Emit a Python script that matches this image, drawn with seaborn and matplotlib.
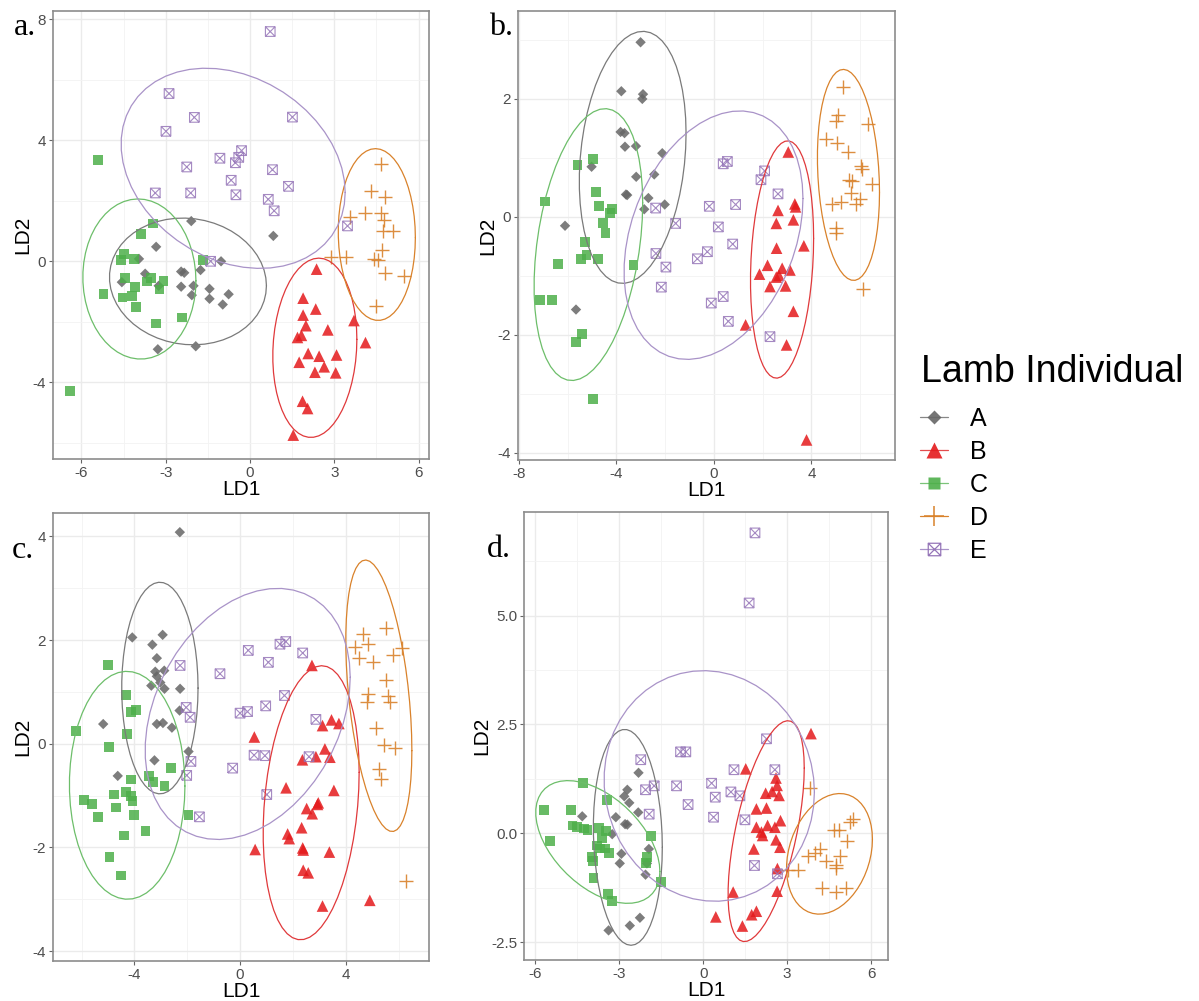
import numpy as np
import pandas as pd
import matplotlib
matplotlib.use("Agg")
import matplotlib.pyplot as plt
import seaborn as sns
from matplotlib.path import Path
from matplotlib.lines import Line2D
from matplotlib.ticker import FormatStrFormatter

sns.set_theme(style="white")
plt.rcParams["font.family"] = ["Liberation Sans", "DejaVu Sans"]
plt.rcParams["axes.unicode_minus"] = False
plt.rcParams["text.color"] = "black"

groups = ["A", "B", "C", "D", "E"]

# ---------------- panel a ----------------
a_A_x = [-2.09, 0.83, -3.34, -3.95, -1.03, -3.73, -2.45, -2.34, -1.76, -4.56, -3.25, -2.45, -2.01, -1.44, -2.07, -1.44, -0.76, -0.97, -3.28, -1.93]
a_A_y = [1.33, 0.84, 0.48, 0.08, 0.0, -0.41, -0.34, -0.38, -0.29, -0.69, -0.81, -0.84, -0.81, -0.91, -1.12, -1.24, -1.09, -1.43, -2.91, -2.81]
a_B_x = [2.37, 1.89, 2.34, 1.89, 1.99, 3.70, 2.77, 1.69, 1.83, 4.11, 2.07, 2.46, 3.08, 1.75, 2.64, 2.31, 3.05, 1.87, 2.05, 1.54]
a_B_y = [-0.26, -1.22, -1.58, -1.78, -2.13, -1.96, -2.27, -2.52, -2.45, -2.69, -3.05, -3.14, -3.10, -3.34, -3.49, -3.67, -3.69, -4.63, -4.87, -5.75]
a_C_x = [-5.41, -3.46, -3.89, -4.49, -4.59, -4.14, -1.68, -4.44, -3.51, -3.67, -3.08, -4.08, -3.22, -5.21, -4.54, -4.20, -4.06, -2.43, -3.35, -6.41]
a_C_y = [3.34, 1.25, 0.89, 0.25, 0.05, 0.08, 0.05, -0.56, -0.55, -0.67, -0.64, -0.84, -0.93, -1.07, -1.20, -1.16, -1.51, -1.86, -2.06, -4.29]
a_D_x = [4.65, 4.32, 4.79, 4.08, 3.55, 4.65, 4.76, 5.09, 4.73, 3.41, 2.88, 4.71, 4.41, 4.56, 4.79, 5.47, 4.47]
a_D_y = [3.22, 2.33, 2.13, 1.61, 1.48, 1.59, 1.38, 1.00, 1.00, 0.14, 0.14, 0.37, 0.08, 0.05, -0.38, -0.49, -1.49]
a_E_x = [0.72, -2.88, -1.98, 1.51, -2.99, -0.30, -0.40, -1.07, -0.52, -2.25, 0.80, -0.67, 1.37, -3.37, -2.11, -0.50, 0.65, 0.86, 3.47, -1.40]
a_E_y = [7.60, 5.55, 4.76, 4.77, 4.30, 3.66, 3.44, 3.41, 3.26, 3.12, 3.03, 2.68, 2.48, 2.26, 2.26, 2.20, 2.05, 1.67, 1.17, 0.0]

# ---------------- panel b ----------------
b_A_x = [-3.01, -3.80, -2.91, -2.94, -3.83, -3.67, -3.65, -3.20, -2.12, -5.02, -3.19, -2.45, -3.61, -3.56, -2.69, -2.86, -2.02, -6.11, -5.66]
b_A_y = [2.96, 2.13, 2.08, 2.00, 1.44, 1.42, 1.19, 1.20, 1.08, 0.85, 0.68, 0.72, 0.38, 0.37, 0.32, 0.13, 0.21, -0.15, -1.57]
b_B_x = [3.05, 3.32, 3.35, 2.63, 2.56, 3.26, 3.69, 2.57, 2.20, 1.87, 2.80, 3.12, 2.56, 2.67, 2.30, 2.94, 3.26, 1.30, 2.98, 3.80]
b_B_y = [1.10, 0.22, 0.17, 0.11, -0.11, -0.05, -0.49, -0.53, -0.82, -0.97, -0.87, -0.90, -1.02, -0.99, -1.18, -1.17, -1.60, -1.83, -2.17, -3.78]
b_C_x = [-4.95, -5.60, -4.83, -6.94, -4.71, -4.17, -4.27, -4.56, -4.45, -5.29, -5.23, -5.47, -4.76, -6.40, -3.30, -7.13, -6.63, -5.40, -5.66, -4.97]
b_C_y = [0.98, 0.88, 0.42, 0.26, 0.18, 0.14, 0.07, -0.11, -0.27, -0.42, -0.65, -0.72, -0.71, -0.80, -0.81, -1.41, -1.41, -1.99, -2.12, -3.09]
b_D_x = [5.29, 5.09, 5.02, 6.31, 4.58, 5.06, 5.51, 6.02, 6.06, 6.50, 5.56, 5.66, 5.64, 5.98, 4.86, 5.23, 5.81, 4.99, 4.99, 6.11]
b_D_y = [2.21, 1.73, 1.63, 1.57, 1.32, 1.26, 1.10, 0.87, 0.82, 0.56, 0.62, 0.61, 0.41, 0.31, 0.22, 0.26, 0.22, -0.19, -0.28, -1.22]
b_E_x = [0.55, 0.38, 2.08, 1.93, 2.63, -0.19, 0.89, -2.39, -1.57, 0.18, 0.77, -2.38, -0.27, -0.68, -1.97, -2.16, 0.38, -0.11, 0.59, 2.30]
b_E_y = [0.94, 0.90, 0.78, 0.63, 0.39, 0.18, 0.21, 0.15, -0.11, -0.17, -0.46, -0.62, -0.59, -0.71, -0.85, -1.19, -1.35, -1.46, -1.77, -2.03]

# ---------------- panel c ----------------
c_A_x = [-2.28, -4.08, -2.93, -3.32, -3.15, -3.21, -2.87, -3.15, -3.02, -3.36, -2.86, -2.27, -2.29, -5.18, -3.15, -2.92, -2.58, -1.95, -3.24, -4.63]
c_A_y = [4.08, 2.05, 2.10, 1.91, 1.65, 1.39, 1.41, 1.30, 1.18, 1.12, 1.06, 1.06, 0.64, 0.38, 0.38, 0.40, 0.31, -0.15, -0.32, -0.62]
c_B_x = [2.72, 3.12, 3.46, 3.74, 0.54, 3.21, 2.87, 3.40, 2.36, 3.55, 1.74, 2.96, 2.93, 2.52, 2.73, 2.33, 1.80, 1.86, 2.37, 2.39, 0.57, 3.38, 2.39, 2.58, 4.91, 3.12]
c_B_y = [1.51, 0.35, 0.46, 0.39, 0.13, -0.10, -0.25, -0.26, -0.31, -0.90, -0.85, -1.14, -1.17, -1.25, -1.35, -1.62, -1.74, -1.83, -2.01, -2.05, -2.04, -2.09, -2.44, -2.49, -3.02, -3.13]
c_C_x = [-5.01, -4.33, -4.12, -3.95, -6.21, -4.28, -4.96, -2.62, -3.45, -3.30, -4.12, -2.86, -4.76, -4.31, -4.12, -4.07, -5.92, -5.59, -4.70, -4.00, -5.39, -1.95, -3.58, -4.40, -4.94, -4.50]
c_C_y = [1.52, 0.94, 0.62, 0.65, 0.24, 0.19, -0.06, -0.47, -0.62, -0.74, -0.69, -0.81, -0.98, -0.93, -1.01, -1.11, -1.08, -1.16, -1.23, -1.37, -1.42, -1.37, -1.68, -1.77, -2.18, -2.54]
c_D_x = [5.52, 4.66, 4.85, 4.35, 6.11, 5.79, 4.51, 5.04, 5.52, 4.85, 5.60, 4.82, 5.69, 5.16, 5.44, 5.86, 5.26, 5.35, 6.27]
c_D_y = [2.24, 2.11, 1.92, 1.87, 1.85, 1.71, 1.65, 1.57, 1.23, 0.96, 0.93, 0.80, 0.80, 0.30, -0.02, -0.08, -0.48, -0.68, -2.64]
c_E_x = [1.73, 1.51, 0.31, 2.37, 1.07, -2.27, -0.76, 1.68, -2.04, -1.89, 0.97, 0.28, 0.0, 2.87, 0.53, 0.94, -1.86, 2.61, -0.28, -2.02, 1.01, -1.54]
c_E_y = [1.97, 1.92, 1.80, 1.75, 1.57, 1.51, 1.35, 0.93, 0.70, 0.51, 0.73, 0.62, 0.59, 0.47, -0.22, -0.23, -0.34, -0.25, -0.47, -0.61, -0.98, -1.41]

# ---------------- panel d ----------------
d_A_x = [-2.31, -2.71, -2.82, -2.64, -2.32, -4.32, -3.12, -2.79, -2.71, -3.25, -1.94, -2.92, -2.98, -2.01, -2.06, -2.26, -2.62, -3.38]
d_A_y = [1.39, 1.00, 0.85, 0.70, 0.48, 0.39, 0.37, 0.21, 0.20, -0.02, -0.36, -0.47, -0.69, -0.69, -0.95, -1.94, -2.12, -2.23]
d_B_x = [3.85, 1.52, 2.60, 2.64, 2.46, 2.23, 2.71, 1.90, 2.26, 2.76, 1.90, 2.30, 2.56, 2.12, 2.08, 2.60, 1.81, 2.74, 2.65, 2.64, 1.07, 1.90, 1.73, 0.45, 1.40]
d_B_y = [2.29, 1.48, 1.27, 1.10, 0.96, 0.92, 0.87, 0.56, 0.58, 0.29, 0.14, 0.18, 0.14, -0.05, 0.03, -0.15, -0.36, -0.32, -0.81, -1.33, -1.35, -1.79, -1.87, -1.92, -2.13]
d_C_x = [-4.29, -3.44, -5.68, -4.71, -4.67, -4.52, -4.25, -4.13, -3.71, -3.48, -3.60, -5.46, -1.86, -3.79, -3.69, -3.51, -3.36, -3.98, -3.95, -2.02, -2.05, -3.92, -1.52, -3.39, -3.27]
d_C_y = [1.16, 0.76, 0.53, 0.53, 0.18, 0.15, 0.11, 0.08, 0.12, 0.06, -0.11, -0.18, -0.07, -0.28, -0.35, -0.35, -0.45, -0.55, -0.64, -0.55, -0.68, -1.03, -1.12, -1.39, -1.56]
d_D_x = [3.82, 5.36, 5.24, 4.67, 4.85, 5.14, 4.17, 3.99, 3.75, 4.89, 4.40, 4.74, 4.74, 3.04, 3.39, 4.25, 5.10, 4.74]
d_D_y = [1.04, 0.34, 0.25, 0.07, 0.07, -0.18, -0.35, -0.45, -0.53, -0.51, -0.64, -0.72, -0.80, -0.85, -0.85, -1.25, -1.25, -1.35]
d_E_x = [1.85, 1.64, 2.26, -2.23, -0.81, -0.62, 1.10, 2.56, -1.75, -2.06, -0.95, 0.30, 0.99, 1.31, 0.43, -0.54, -1.93, 0.37, 1.49, 1.83, 2.65]
d_E_y = [6.90, 5.29, 2.17, 1.69, 1.87, 1.87, 1.46, 1.46, 1.09, 1.00, 1.09, 1.15, 0.95, 0.86, 0.83, 0.66, 0.44, 0.37, 0.31, -0.74, -0.93]

panel_labels = ["a.", "b.", "c.", "d."]
x_label = "LD1"
y_label = "LD2"
legend_title = "Lamb Individual"

# ---------------- styles ----------------
pt_col = {"A": "#666666", "B": "#E41A1C", "C": "#4DAF4A", "D": "#D9822B", "E": "#9575B8"}
ell_col = {"A": "#7A7A7A", "B": "#E0393B", "C": "#6DBE6A", "D": "#D9822B", "E": "#A993C8"}

boxx = Path([(-1, -1), (1, -1), (1, 1), (-1, 1), (-1, -1), (-1, -1), (1, 1), (-1, 1), (1, -1)],
            [Path.MOVETO, Path.LINETO, Path.LINETO, Path.LINETO, Path.LINETO,
             Path.MOVETO, Path.LINETO, Path.MOVETO, Path.LINETO])
mk = {"A": "D", "B": "^", "C": "s", "D": "+", "E": boxx}
msz = {"A": 28, "B": 70, "C": 50, "D": 110, "E": 48}


def cov_trob(X, nu=5, maxit=25, tol=0.01):
    n, p = X.shape
    loc = X.mean(axis=0)
    w = np.ones(n)
    Xc = X - loc
    for _ in range(maxit):
        w0 = w.copy()
        Xc = X - loc
        A = np.sqrt(w / w.sum())[:, None] * Xc
        _, d, Vt = np.linalg.svd(A, full_matrices=False)
        wX = Xc @ Vt.T @ np.diag(1.0 / d)
        Q = (wX ** 2).sum(axis=1)
        w = (nu + p) / (nu + Q)
        loc = (w[:, None] * X).sum(axis=0) / w.sum()
        if np.all(np.abs(w - w0) < tol):
            break
    S = np.sqrt(w)[:, None] * Xc
    cov = S.T @ S / n
    return loc, cov


def ellipse(x, y, level=0.95, seg=51):
    X = np.column_stack([x, y])
    n = len(x)
    center, shape = cov_trob(X)
    R = np.linalg.cholesky(shape).T
    dfd = n - 1
    qf = dfd / 2.0 * ((1 - level) ** (-2.0 / dfd) - 1)
    radius = np.sqrt(2 * qf)
    ang = np.linspace(0, 2 * np.pi, seg + 1)
    unit = np.column_stack([np.cos(ang), np.sin(ang)])
    e = center + radius * unit @ R
    return e[:, 0], e[:, 1]


panels = [
    dict(data={"A": (a_A_x, a_A_y), "B": (a_B_x, a_B_y), "C": (a_C_x, a_C_y), "D": (a_D_x, a_D_y), "E": (a_E_x, a_E_y)},
         rect=(53, 11, 429, 459), xlim=(-7.01, 6.37), ylim=(-6.54, 8.28),
         xt=[-6, -3, 0, 3, 6], xm=[-4.5, -1.5, 1.5, 4.5], yt=[-4, 0, 4, 8], ym=[-6, -2, 2, 6], fmt=None,
         lab=(14, 35)),
    dict(data={"A": (b_A_x, b_A_y), "B": (b_B_x, b_B_y), "C": (b_C_x, b_C_y), "D": (b_D_x, b_D_y), "E": (b_E_x, b_E_y)},
         rect=(518, 11, 895, 460), xlim=(-8.04, 7.43), ylim=(-4.12, 3.49),
         xt=[-8, -4, 0, 4], xm=[-6, -2, 2, 6], yt=[-4, -2, 0, 2], ym=[-3, -1, 1, 3], fmt=None,
         lab=(489, 35)),
    dict(data={"A": (c_A_x, c_A_y), "B": (c_B_x, c_B_y), "C": (c_C_x, c_C_y), "D": (c_D_x, c_D_y), "E": (c_E_x, c_E_y)},
         rect=(53, 513, 429, 961), xlim=(-7.08, 7.15), ylim=(-4.19, 4.45),
         xt=[-4, 0, 4], xm=[-6, -2, 2, 6], yt=[-4, -2, 0, 2, 4], ym=[-3, -1, 1, 3], fmt=None,
         lab=(12, 558)),
    dict(data={"A": (d_A_x, d_A_y), "B": (d_B_x, d_B_y), "C": (d_C_x, d_C_y), "D": (d_D_x, d_D_y), "E": (d_E_x, d_E_y)},
         rect=(524, 512, 888, 960), xlim=(-6.40, 6.60), ylim=(-2.91, 7.38),
         xt=[-6, -3, 0, 3, 6], xm=[-4.5, -1.5, 1.5, 4.5], yt=[-2.5, 0, 2.5, 5.0], ym=[-1.25, 1.25, 3.75, 6.25], fmt="%.1f",
         lab=(487, 557)),
]

W, H = 1199, 1001
fig = plt.figure(figsize=(W / 100, H / 100), dpi=100)

for i, P in enumerate(panels):
    x0, y0, x1, y1 = P["rect"]
    ax = fig.add_axes([x0 / W, 1 - y1 / H, (x1 - x0) / W, (y1 - y0) / H])
    ax.set_facecolor("white")
    for g in groups:
        gx, gy = P["data"][g]
        df = pd.DataFrame({"LD1": gx, "LD2": gy})
        if g == "E":
            sns.scatterplot(data=df, x="LD1", y="LD2", ax=ax, marker=mk[g], s=msz[g],
                            color=pt_col[g], facecolor="none", edgecolor=pt_col[g],
                            linewidth=0.8, alpha=0.85, legend=False, zorder=3)
        elif g == "D":
            sns.scatterplot(data=df, x="LD1", y="LD2", ax=ax, marker=mk[g], s=msz[g],
                            color=pt_col[g], linewidth=1.0, alpha=0.9, legend=False, zorder=3)
        else:
            sns.scatterplot(data=df, x="LD1", y="LD2", ax=ax, marker=mk[g], s=msz[g],
                            color=pt_col[g], edgecolor="none", linewidth=0, alpha=0.85,
                            legend=False, zorder=3)
    for g in groups:
        gx, gy = P["data"][g]
        ex, ey = ellipse(np.array(gx), np.array(gy))
        sns.lineplot(x=ex, y=ey, sort=False, estimator=None, ax=ax, color=ell_col[g],
                     linewidth=0.9, legend=False, zorder=4)
    ax.set_xlim(*P["xlim"])
    ax.set_ylim(*P["ylim"])
    ax.set_xticks(P["xt"])
    ax.set_xticks(P["xm"], minor=True)
    ax.set_yticks(P["yt"])
    ax.set_yticks(P["ym"], minor=True)
    if P["fmt"]:
        ax.yaxis.set_major_formatter(FormatStrFormatter(P["fmt"]))
    ax.grid(which="major", color="#EBEBEB", linewidth=1.0, zorder=0)
    ax.grid(which="minor", color="#F3F3F3", linewidth=0.6, zorder=0)
    ax.set_axisbelow(True)
    ax.tick_params(which="major", length=3, width=0.8, color="#666666", labelsize=11,
                   labelcolor="#4D4D4D", pad=2, bottom=True, left=True)
    ax.tick_params(which="minor", length=0)
    for sp in ax.spines.values():
        sp.set_visible(True)
        sp.set_color("#8C8C8C")
        sp.set_linewidth(1.2)
    ax.set_xlabel(x_label, fontsize=15, labelpad=0, color="black")
    ax.set_ylabel(y_label, fontsize=15, labelpad=0, color="black")
    lx, ly = P["lab"]
    fig.text(lx / W, 1 - ly / H, panel_labels[i], fontsize=23, family=["Liberation Serif", "DejaVu Serif"],
             ha="left", va="baseline", color="black")

handles = []
for g in groups:
    if g == "E":
        h = Line2D([0, 1], [0, 0], color=ell_col[g], lw=0.9, marker=mk[g], markersize=9,
                   markerfacecolor="none", markeredgecolor=pt_col[g], markeredgewidth=0.9)
    elif g == "D":
        h = Line2D([0, 1], [0, 0], color=ell_col[g], lw=0.9, marker=mk[g], markersize=14,
                   markeredgecolor=pt_col[g], markeredgewidth=1.1)
    else:
        ms = {"A": 7, "B": 11, "C": 9}[g]
        h = Line2D([0, 1], [0, 0], color=ell_col[g], lw=0.9, marker=mk[g], markersize=ms,
                   markerfacecolor=pt_col[g], markeredgecolor="none", alpha=0.9)
    handles.append(h)

fig.text(921 / W, 1 - 372 / H, legend_title, fontsize=27, ha="left", va="center", color="black")
leg = fig.legend(handles, groups, loc="upper left", bbox_to_anchor=(920 / W, 1 - 407 / H),
                 frameon=False, fontsize=18, labelcolor="black",
                 handlelength=1.1, handletextpad=0.9, labelspacing=0.36, borderpad=0.0,
                 borderaxespad=0.0)

fig.savefig("out.png", dpi=100, facecolor="white")
